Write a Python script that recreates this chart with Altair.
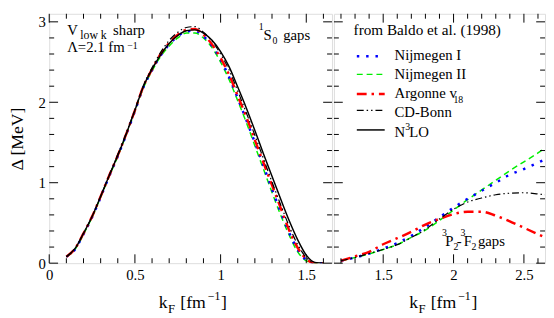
import altair as alt
import pandas as pd

FONT = "Times New Roman, Liberation Serif, serif"

# ---------------- data: 1S0 gaps (left panel) ----------------
kf_s0 = [0.10, 0.15, 0.20, 0.25, 0.30, 0.35, 0.40, 0.45, 0.50, 0.55, 0.60,
         0.65, 0.70, 0.75, 0.80, 0.85, 0.90, 0.95, 1.00, 1.05, 1.10, 1.15,
         1.20, 1.25, 1.30, 1.35, 1.40, 1.45, 1.50, 1.55, 1.60]
s0_nijm1 = [0.08, 0.17, 0.36, 0.57, 0.82, 1.08, 1.33, 1.60, 1.89, 2.19, 2.40,
            2.58, 2.72, 2.82, 2.88, 2.89, 2.82, 2.70, 2.53, 2.31, 2.05, 1.78,
            1.50, 1.21, 0.92, 0.64, 0.38, 0.17, 0.04, 0.0, 0.0]
s0_nijm2 = [0.08, 0.17, 0.36, 0.57, 0.82, 1.08, 1.33, 1.60, 1.89, 2.18, 2.39,
            2.57, 2.70, 2.80, 2.86, 2.86, 2.80, 2.68, 2.50, 2.28, 2.02, 1.75,
            1.46, 1.17, 0.88, 0.60, 0.35, 0.14, 0.03, 0.0, 0.0]
s0_av18 = [0.08, 0.18, 0.37, 0.58, 0.83, 1.09, 1.34, 1.61, 1.90, 2.20, 2.41,
           2.60, 2.74, 2.84, 2.90, 2.91, 2.84, 2.72, 2.55, 2.34, 2.08, 1.82,
           1.53, 1.25, 0.97, 0.69, 0.41, 0.19, 0.05, 0.0, 0.0]
s0_cdbonn = [0.08, 0.18, 0.37, 0.58, 0.83, 1.09, 1.35, 1.62, 1.91, 2.21, 2.43,
             2.62, 2.77, 2.87, 2.93, 2.94, 2.87, 2.76, 2.60, 2.40, 2.14, 1.87,
             1.59, 1.30, 1.01, 0.73, 0.46, 0.23, 0.07, 0.0, 0.0]
s0_n3lo = [0.08, 0.18, 0.37, 0.58, 0.83, 1.09, 1.34, 1.61, 1.90, 2.20, 2.41,
           2.59, 2.73, 2.83, 2.89, 2.90, 2.86, 2.77, 2.63, 2.44, 2.19, 1.93,
           1.65, 1.36, 1.08, 0.80, 0.53, 0.29, 0.10, 0.01, 0.0]

# ---------------- data: 3P2-3F2 gaps (right panel) ----------------
kf_p2 = [1.20, 1.30, 1.40, 1.50, 1.60, 1.70, 1.80, 1.90, 2.00, 2.10, 2.20,
         2.30, 2.40, 2.50, 2.60, 2.65]
p2_nijm1 = [0.03, 0.07, 0.12, 0.18, 0.25, 0.34, 0.45, 0.57, 0.69, 0.80, 0.90,
            1.00, 1.10, 1.17, 1.25, 1.29]
p2_nijm2 = [0.03, 0.07, 0.115, 0.17, 0.23, 0.32, 0.41, 0.53, 0.66, 0.79, 0.91,
            1.03, 1.15, 1.26, 1.37, 1.43]
p2_av18 = [0.03, 0.085, 0.14, 0.235, 0.31, 0.39, 0.48, 0.55, 0.61, 0.64, 0.64,
           0.59, 0.52, 0.44, 0.36, 0.32]
p2_cdbonn = [0.03, 0.07, 0.12, 0.17, 0.23, 0.32, 0.42, 0.55, 0.67, 0.76, 0.81,
             0.85, 0.87, 0.875, 0.86, 0.85]

# ---------------- ticks ----------------
xl_major = [0, 0.5, 1, 1.5]
xl_minor = [0.1, 0.2, 0.3, 0.4, 0.6, 0.7, 0.8, 0.9, 1.1, 1.2, 1.3, 1.4, 1.6]
xr_major = [1.5, 2, 2.5]
xr_minor = [1.2, 1.3, 1.4, 1.6, 1.7, 1.8, 1.9, 2.1, 2.2, 2.3, 2.4, 2.6]
y_major = [0, 1, 2, 3]
y_minor = [0.2, 0.4, 0.6, 0.8, 1.2, 1.4, 1.6, 1.8, 2.2, 2.4, 2.6, 2.8]

H = 254
WL = 288
WR = 215
MAJ = 9
MIN = 5

STYLES = {
    "Nijmegen I": dict(color="#0000ff", strokeDash=[2.5, 7], strokeWidth=2.5),
    "Nijmegen II": dict(color="#00ee00", strokeDash=[6, 4], strokeWidth=1.5),
    "Argonne v18": dict(color="#ff0000", strokeDash=[10, 5, 2.5, 5], strokeWidth=2.5),
    "CD-Bonn": dict(color="black", strokeDash=[7, 3, 1.5, 3, 1.5, 3], strokeWidth=1.2),
    "N3LO": dict(color="black", strokeWidth=1.5),
}

one = pd.DataFrame({"d": [0]})


def long_df(kf, series):
    rows = []
    for name, vals in series.items():
        for k, v in zip(kf, vals):
            rows.append({"kF": k, "gap": v, "series": name})
    return pd.DataFrame(rows)


df_s0 = long_df(kf_s0, {"Nijmegen II": s0_nijm2, "Nijmegen I": s0_nijm1,
                        "Argonne v18": s0_av18, "CD-Bonn": s0_cdbonn, "N3LO": s0_n3lo})
df_p2 = long_df(kf_p2, {"Nijmegen II": p2_nijm2, "Nijmegen I": p2_nijm1,
                        "Argonne v18": p2_av18, "CD-Bonn": p2_cdbonn})


def txt(s, x, y, size=15):
    return alt.Chart(one).mark_text(text=s, font=FONT, fontSize=size, align="left",
                                    baseline="alphabetic", color="black").encode(
        x=alt.value(x), y=alt.value(y))


def seg(x1, x2, y, style):
    return alt.Chart(one).mark_rule(**style).encode(
        x=alt.value(x1), x2=alt.value(x2), y=alt.value(y))


yscale = alt.Scale(domain=[0, 3.1], nice=False, zero=False)


def panel(df, order, xdom, xmaj, xmin, W, show_y):
    xscale = alt.Scale(domain=xdom, nice=False, zero=False)
    xaxis = alt.Axis(values=xmaj, format="~g", ticks=False, domain=False, grid=False,
                     labelFont=FONT, labelFontSize=15, labelColor="black",
                     labelPadding=5, labelFlush=False, labelOverlap=False, title=None)
    if show_y:
        yaxis = alt.Axis(values=y_major, format="~g", ticks=False, domain=False, grid=False,
                         labelFont=FONT, labelFontSize=15, labelColor="black",
                         labelPadding=4, labelFlush=False, labelOverlap=False,
                         title="Δ [MeV]", titleFont=FONT, titleFontSize=18,
                         titleFontWeight="normal", titleColor="black", titlePadding=12)
    else:
        yaxis = None
    layers = []
    for n in order:
        layers.append(
            alt.Chart(df).transform_filter(alt.datum.series == n)
            .mark_line(clip=True, interpolate="monotone", **STYLES[n])
            .encode(x=alt.X("kF:Q", scale=xscale, axis=xaxis),
                    y=alt.Y("gap:Q", scale=yscale, axis=yaxis))
        )
    # inward ticks
    for vals, ln in ((xmaj, MAJ), (xmin, MIN)):
        d = pd.DataFrame({"kF": vals})
        layers.append(alt.Chart(d).mark_rule(color="black", strokeWidth=1).encode(
            x=alt.X("kF:Q", scale=xscale, axis=xaxis), y=alt.value(H), y2=alt.value(H - ln)))
        layers.append(alt.Chart(d).mark_rule(color="black", strokeWidth=1).encode(
            x=alt.X("kF:Q", scale=xscale, axis=xaxis), y=alt.value(0), y2=alt.value(ln)))
    for vals, ln in ((y_major, MAJ), (y_minor, MIN)):
        d = pd.DataFrame({"gap": vals})
        layers.append(alt.Chart(d).mark_rule(color="black", strokeWidth=1).encode(
            y=alt.Y("gap:Q", scale=yscale, axis=yaxis), x=alt.value(0), x2=alt.value(ln)))
        layers.append(alt.Chart(d).mark_rule(color="black", strokeWidth=1).encode(
            y=alt.Y("gap:Q", scale=yscale, axis=yaxis), x=alt.value(W), x2=alt.value(W - ln)))
    return layers


left_layers = panel(df_s0, ["Nijmegen II", "Nijmegen I", "Argonne v18", "CD-Bonn", "N3LO"],
                    [0, 1.65], xl_major, xl_minor, WL, True)
left_layers += [
    txt("V", 18.3, 21.7), txt("low k", 31.6, 26, 12), txt("sharp", 65, 21.7),
    txt("Λ=2.1 fm", 18.3, 39), txt("−1", 79.5, 35.5, 10),
    txt("1", 213.3, 17, 10), txt("S", 218.3, 26.7), txt("0", 227.3, 31, 10),
    txt("gaps", 238.3, 26.7),
    txt("k", 111.6, 300, 18), txt("F", 121, 305, 13), txt("[fm", 133.5, 300, 18),
    txt("−1", 161.5, 292, 12), txt("]", 175, 300, 18),
]
left = alt.layer(*left_layers).properties(width=WL, height=H)

right_layers = panel(df_p2, ["Nijmegen II", "Nijmegen I", "Argonne v18", "CD-Bonn"],
                     [1.15, 2.65], xr_major, xr_minor, WR, False)
legend_rows = [("Nijmegen I", 43.3, 46.7), ("Nijmegen II", 61.7, 66),
               ("Argonne v18", 81.7, 85.7), ("CD-Bonn", 98.3, 105), ("N3LO", 118.3, 125)]
right_layers += [txt("from Baldo et al. (1998)", 20, 21.7, 15.5)]
for name, ly, ty in legend_rows:
    right_layers.append(seg(23.3, 51.7, ly, STYLES[name]))
right_layers += [
    txt("Nijmegen I", 61.7, 46.7), txt("Nijmegen II", 61.7, 66),
    txt("Argonne v", 61.7, 85.7), txt("18", 121.7, 90.7, 10),
    txt("CD-Bonn", 61.7, 105),
    txt("N", 61.7, 125), txt("3", 72.7, 118.3, 10), txt("LO", 76.7, 125),
    txt("3", 110, 226.8, 10), txt("P", 113.3, 236.5), txt("2", 121.7, 240.5, 10),
    txt("-", 125, 236.5), txt("3", 129, 226.8, 10), txt("F", 132.3, 236.5),
    txt("2", 140, 240.5, 10), txt("gaps", 146.7, 236.5),
    txt("k", 76.7, 300, 18), txt("F", 86.2, 305, 13), txt("[fm", 98.6, 300, 18),
    txt("−1", 126.6, 292, 12), txt("]", 140, 300, 18),
]
right = alt.layer(*right_layers).properties(width=WR, height=H)

chart = (
    alt.hconcat(left, right, spacing=0)
    .resolve_scale(x="independent", y="independent")
    .properties(padding={"left": 0, "top": 2, "right": 0, "bottom": 0})
    .configure_view(stroke="black", strokeWidth=1)
    .configure(background="white")
)

chart.save("out.html", embed_options={"renderer": "svg", "actions": False})
